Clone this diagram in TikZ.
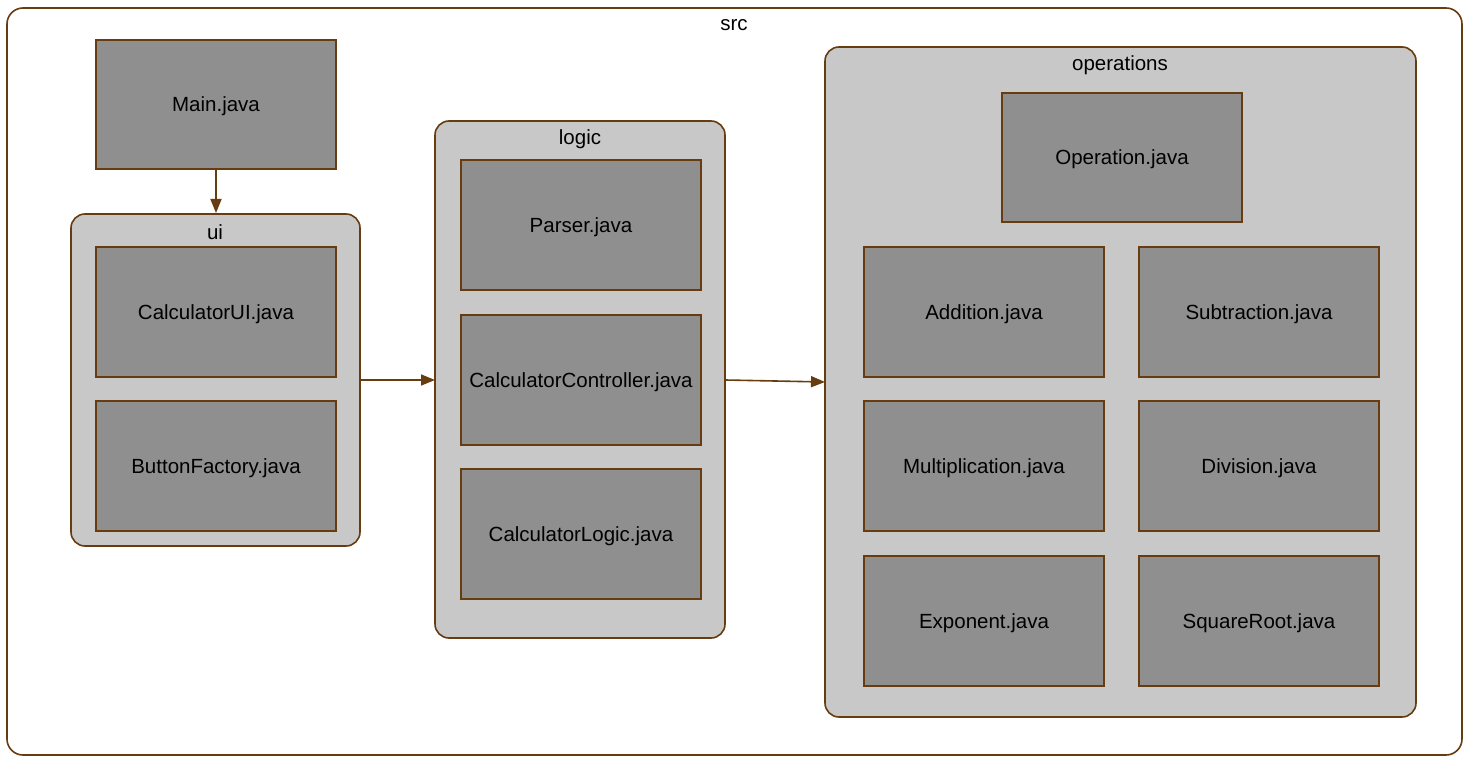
\documentclass[tikz,border=0pt]{standalone}
\usepackage{fontspec}
\setmainfont{Liberation Sans}
\usetikzlibrary{arrows.meta}
\definecolor{edge}{RGB}{102,60,16}
\definecolor{filenode}{RGB}{143,143,143}
\definecolor{clusterfill}{RGB}{200,200,200}
\tikzset{
  filebox/.style={draw=edge, line width=1.6pt, fill=filenode},
  clusterbox/.style={draw=edge, line width=1.6pt, fill=clusterfill, rounded corners=14pt},
  srcbox/.style={draw=edge, line width=1.6pt, fill=white, rounded corners=16pt},
  lbl/.style={font=\fontsize{20.5}{24}\selectfont, inner sep=0pt, yshift=-2pt},
  conn/.style={draw=edge, line width=1.6pt, -{Triangle[length=14pt,width=11pt]}}
}
\begin{document}
\begin{tikzpicture}[x=1pt,y=-1pt]
\useasboundingbox (0,0) rectangle (1473,767);
% src
\draw[srcbox] (7,8) rectangle (1462,755);
\node[lbl] (srclbl) at (734,23) {src};
% Main
\draw[filebox] (96,40) rectangle (336,169);
\node[lbl] (main) at (216,104.5) {Main.java};
\coordinate (mainS) at (216,169);
% ui
\draw[clusterbox] (71,214) rectangle (360,546);
\node[lbl] (uilbl) at (215,230) {ui};
\coordinate (uiN) at (216,213);
\coordinate (uiE) at (360,380);
\draw[filebox] (96,247) rectangle (336,377);
\node[lbl] (calcui) at (216,312) {CalculatorUI.java};
\draw[filebox] (96,401) rectangle (336,531);
\node[lbl] (btn) at (216,466) {ButtonFactory.java};
% logic
\draw[clusterbox] (435,121) rectangle (725,638);
\node[lbl] (logiclbl) at (580,137) {logic};
\coordinate (logicW) at (435,380);
\coordinate (logicE) at (725,380);
\draw[filebox] (461,160) rectangle (701,290);
\node[lbl] (parser) at (581,225) {Parser.java};
\draw[filebox] (461,315) rectangle (701,445);
\node[lbl] (ctrl) at (581,380) {CalculatorController.java};
\draw[filebox] (461,469) rectangle (701,599);
\node[lbl] (clogic) at (581,534) {CalculatorLogic.java};
% operations
\draw[clusterbox] (825,47) rectangle (1416,717);
\node[lbl] (opslbl) at (1120,63) {operations};
\coordinate (opsW) at (825,382);
\draw[filebox] (1002,93) rectangle (1242,222);
\node[lbl] (op) at (1122,157.5) {Operation.java};
\draw[filebox] (864,247) rectangle (1104,377);
\node[lbl] (add) at (984,312) {Addition.java};
\draw[filebox] (1139,247) rectangle (1379,377);
\node[lbl] (sub) at (1259,312) {Subtraction.java};
\draw[filebox] (864,401) rectangle (1104,531);
\node[lbl] (mul) at (984,466) {Multiplication.java};
\draw[filebox] (1139,401) rectangle (1379,531);
\node[lbl] (div) at (1259,466) {Division.java};
\draw[filebox] (864,556) rectangle (1104,686);
\node[lbl] (exp) at (984,621) {Exponent.java};
\draw[filebox] (1139,556) rectangle (1379,686);
\node[lbl] (sqrt) at (1259,621) {SquareRoot.java};
% connectors
\draw[conn] (mainS) -- (uiN);
\draw[conn] (uiE) -- (logicW);
\draw[conn] (logicE) -- (opsW);
\end{tikzpicture}
\end{document}
